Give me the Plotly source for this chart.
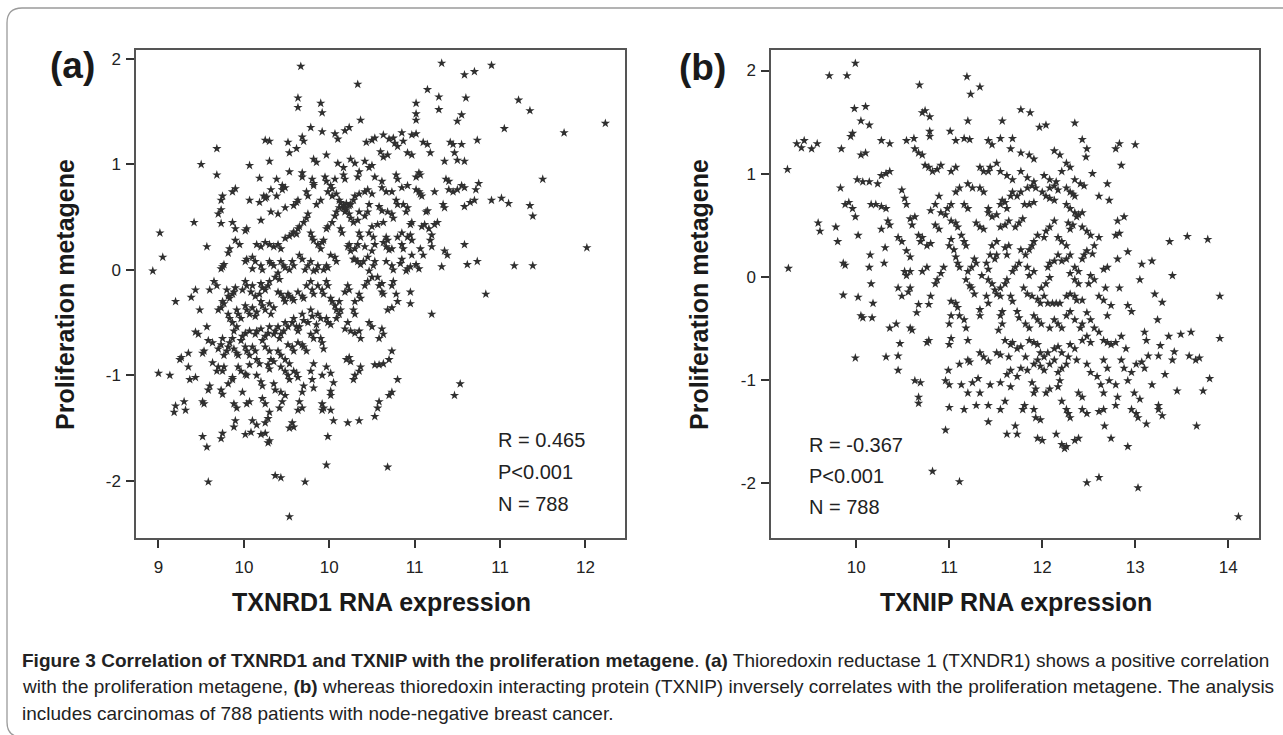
import plotly.graph_objects as go

# ---------------- data ----------------
# Panel (a): TXNRD1 RNA expression vs proliferation metagene
points_a = [
(10.0,1.93),(10.99,1.96),(11.34,1.94),(11.15,1.85),(11.22,1.88),(10.40,1.76),(10.89,1.71),(10.97,1.64),(10.97,1.52),(11.16,1.63),
(11.53,1.61),(11.61,1.51),(9.98,1.63),(9.98,1.54),(10.14,1.58),(10.15,1.49),(10.81,1.58),(10.81,1.48),(10.81,1.42),(11.13,1.47),
(11.10,1.41),(12.14,1.39),(11.85,1.30),(11.43,1.34),(10.42,1.42),(10.34,1.35),(10.31,1.32),(10.07,1.35),(10.15,1.31),(10.01,1.26),
(10.02,1.22),(10.24,1.29),(10.26,1.24),(9.75,1.23),(9.78,1.22),(9.91,1.21),(9.41,1.15),(9.30,1.0),(9.64,0.99),(9.78,1.03),
(9.92,1.11),(9.97,1.15),(10.09,1.05),(10.11,1.02),(10.18,1.09),(10.46,1.21),(10.50,1.23),(10.52,1.25),(10.58,1.28),(10.62,1.24),
(10.65,1.25),(10.71,1.30),(10.72,1.22),(10.78,1.28),(10.81,1.29),(10.66,1.20),(10.68,1.17),(10.75,1.11),(10.78,1.09),(10.56,1.12),
(10.58,1.07),(10.61,1.09),(10.86,1.21),(10.89,1.19),(10.91,1.11),(11.05,1.21),(11.07,1.19),(11.13,1.19),(11.24,1.23),(11.08,1.11),
(11.10,1.04),(11.15,1.03),(11.01,1.03),(10.45,1.03),(10.48,0.97),(10.50,0.99),(10.35,1.05),(10.38,1.01),(10.26,1.01),(10.30,0.97),
(10.41,0.93),(10.40,0.88),(10.30,0.90),(10.31,0.86),(10.24,0.86),(10.21,0.80),(10.22,0.77),(10.17,0.88),(10.18,0.84),(10.08,0.86),
(10.09,0.82),(10.09,0.80),(10.01,0.92),(10.01,0.88),(9.92,0.93),(9.83,0.86),(9.87,0.80),(9.89,0.78),(9.71,0.87),(9.79,0.76),
(9.83,0.70),(9.87,0.76),(9.74,0.70),(9.75,0.68),(9.76,0.69),(9.71,0.64),(9.64,0.66),(9.54,0.77),(9.52,0.74),(9.45,0.70),
(9.44,0.66),(9.41,0.90),(9.44,0.57),(9.42,0.53),(9.25,0.45),(9.44,0.44),(9.52,0.45),(9.54,0.39),(9.62,0.39),(9.61,0.37),
(9.72,0.47),(9.79,0.55),(9.84,0.53),(9.89,0.59),(9.95,0.61),(9.97,0.64),(9.98,0.66),(10.04,0.74),(10.05,0.70),(10.11,0.62),
(10.14,0.66),(10.19,0.74),(10.22,0.70),(10.25,0.72),(10.27,0.66),(10.28,0.64),(10.30,0.59),(10.31,0.55),(10.32,0.57),(10.34,0.61),
(10.35,0.62),(10.37,0.66),(10.38,0.70),(10.41,0.72),(10.45,0.74),(10.47,0.76),(10.50,0.72),(10.57,0.78),(10.60,0.74),(10.64,0.74),
(10.71,0.78),(10.75,0.80),(10.83,0.74),(10.84,0.72),(10.85,0.70),(10.81,0.76),(10.84,0.90),(10.83,0.92),(10.81,0.88),(10.67,0.90),
(10.68,0.86),(10.57,0.84),(10.52,0.88),(11.04,0.76),(11.07,0.74),(11.10,0.76),(11.13,0.80),(11.15,0.78),(11.23,0.76),(11.25,0.82),
(11.22,0.66),(11.19,0.64),(11.15,0.60),(11.34,0.66),(11.41,0.68),(11.46,0.63),(11.70,0.86),(11.61,0.61),(11.63,0.51),(12.01,0.21),
(11.50,0.04),(11.63,0.04),(11.24,0.08),(11.17,0.05),(11.15,0.24),(11.30,-0.23),(11.08,-1.19),(11.12,-1.08),(10.92,-0.42),(11.01,0.18),
(11.03,0.14),(10.99,0.03),(10.92,0.22),(10.91,0.28),(10.92,0.33),(10.90,0.39),(10.96,0.45),(10.94,0.43),(10.87,0.43),(10.85,0.41),
(10.78,0.45),(10.77,0.43),(10.88,0.55),(10.89,0.56),(10.71,0.35),(10.75,0.31),(10.77,0.33),(10.68,0.31),(10.84,0.20),(10.78,0.14),
(10.75,0.01),(10.74,-0.01),(10.77,0.03),(10.81,0.05),(10.83,0.01),(10.64,0.20),(10.62,0.19),(10.60,0.22),(10.61,0.55),(10.64,0.53),
(10.65,0.49),(10.58,0.45),(10.54,0.43),(10.50,0.41),(10.71,0.10),(10.70,0.06),(10.65,-0.11),(10.64,-0.15),(10.77,-0.21),(10.77,-0.32),
(10.68,-0.30),(10.67,-0.23),(10.61,-0.38),(10.64,-0.36),(10.54,-0.07),(10.55,-0.15),(10.57,-0.21),(10.58,-0.23),(10.57,-0.13),(10.47,0.12),
(10.50,0.18),(10.45,0.22),(10.40,0.24),(10.38,0.20),(10.35,0.18),(10.34,0.24),(10.33,0.22),(10.41,0.35),(10.42,0.31),(10.38,0.10),
(10.40,0.08),(10.42,0.05),(10.44,0.08),(10.37,0.10),(10.48,-0.01),(10.50,-0.07),(10.47,-0.11),(10.45,-0.15),(10.41,-0.23),(10.42,-0.27),
(10.38,-0.30),(10.33,-0.15),(10.34,-0.19),(10.31,-0.21),(10.37,-0.38),(10.38,-0.42),(10.33,-0.50),(10.31,-0.56),(10.27,-0.42),(10.28,-0.38),
(10.25,-0.46),(10.41,-0.58),(10.42,-0.65),(10.38,-0.60),(10.35,-0.58),(10.48,-0.50),(10.50,-0.54),(10.57,-0.56),(10.58,-0.61),(10.55,-0.65),
(10.64,-0.77),(10.62,-0.85),(10.58,-0.89),(10.55,-0.90),(10.52,-0.90),(10.42,-0.92),(10.41,-0.96),(10.38,-1.0),(10.37,-1.04),(10.34,-0.83),
(10.35,-0.87),(10.32,-0.85),(10.68,-1.04),(10.64,-1.16),(10.62,-1.19),(10.55,-1.25),(10.52,-1.39),(10.54,-1.31),(10.41,-1.43),(10.33,-1.45),
(10.61,-1.87),(10.21,-1.33),(10.23,-1.43),(10.19,-1.58),(10.18,-1.85),(10.23,-1.07),(10.21,-1.15),(10.21,-1.19),(10.15,-1.27),(10.16,-1.31),
(10.15,-1.33),(10.18,-0.92),(10.21,-0.98),(10.15,-1.0),(10.09,-0.89),(10.07,-0.96),(10.08,-1.04),(10.09,-1.12),(10.02,-1.10),(10.01,-1.16),
(9.99,-1.25),(10.01,-1.31),(9.98,-1.33),(9.94,-1.45),(9.95,-1.49),(9.92,-1.50),(10.03,-2.01),(9.92,-2.34),(9.82,-1.95),(9.86,-1.97),
(9.87,-1.25),(9.85,-1.31),(9.78,-1.35),(9.77,-1.41),(9.75,-1.45),(9.75,-1.55),(9.77,-1.64),(9.78,-1.62),(9.72,-1.56),(9.64,-1.25),
(9.62,-1.27),(9.65,-1.54),(9.54,-1.43),(9.53,-1.49),(9.45,-1.55),(9.44,-1.60),(9.35,-2.01),(9.34,-1.68),(9.31,-1.58),(9.31,-1.25),
(9.32,-1.27),(9.19,-1.33),(9.12,-1.29),(9.11,-1.35),(9.18,-1.25),(9.22,-1.04),(9.26,-1.02),(9.36,-1.10),(9.35,-1.14),(9.41,-0.96),
(9.42,-0.92),(9.52,-1.02),(9.52,-1.04),(9.49,-1.08),(9.61,-0.99),(9.62,-1.0),(9.0,-0.98),(9.08,-1.0),(9.15,-0.85),(9.16,-0.83),
(9.21,-0.79),(9.12,-0.30),(8.96,-0.01),(9.03,0.12),(9.01,0.35),(9.23,-0.26),(9.26,-0.19),(9.29,-0.38),(9.28,-0.61),(9.26,-0.59),
(9.31,-0.79),(9.32,-0.77),(9.34,-0.54),(9.35,-0.67),(9.38,-0.69),(9.36,-0.19),(9.39,-0.11),(9.41,-0.15),(9.34,0.22),(9.44,0.01),
(9.45,0.03),(9.46,0.05),(9.49,0.16),(9.50,0.20),(9.54,0.28),(9.57,0.24),(9.61,0.08),(9.62,0.10),(9.66,0.12),(9.68,0.08),
(9.66,0.01),(9.72,0.04),(9.73,0.00),(9.78,0.08),(9.79,0.06),(9.81,0.04),(9.69,0.24),(9.72,0.22),(9.75,0.26),(9.78,0.24),
(9.81,0.22),(9.84,0.24),(9.86,0.20),(9.89,0.30),(9.92,0.32),(9.94,0.34),(9.95,0.36),(9.98,0.39),(9.99,0.41),(9.97,0.34),
(10.02,0.45),(10.04,0.49),(10.05,0.53),(10.07,0.35),(10.08,0.31),(10.09,0.28),(10.12,0.24),(10.14,0.20),(10.15,0.26),(10.16,0.28),
(10.18,0.39),(10.19,0.41),(10.22,0.45),(10.24,0.51),(10.25,0.55),(10.27,0.59),(10.30,0.61),(10.31,0.59),(10.32,0.63),(10.34,0.53),
(10.35,0.49),(10.37,0.45),(10.28,0.39),(10.29,0.35),(10.21,0.14),(10.24,0.12),(10.25,0.08),(10.18,0.04),(10.16,0.0),(10.19,0.02),
(10.12,0.04),(10.11,0.0),(10.09,-0.01),(10.07,0.08),(10.05,0.04),(10.03,0.0),(9.99,0.14),(10.01,0.10),(9.94,0.08),(9.95,0.04),
(9.92,0.0),(9.86,0.08),(9.88,0.04),(9.89,0.02),(9.84,-0.03),(9.82,-0.07),(9.85,-0.09),(9.78,-0.11),(9.77,-0.15),(9.75,-0.19),
(9.72,-0.13),(9.73,-0.17),(9.71,-0.23),(9.66,-0.15),(9.65,-0.21),(9.68,-0.25),(9.61,-0.11),(9.62,-0.15),(9.59,-0.19),(9.54,-0.17),
(9.53,-0.21),(9.52,-0.23),(9.50,-0.27),(9.48,-0.19),(9.49,-0.25),(9.45,-0.30),(9.44,-0.36),(9.42,-0.38),(9.46,-0.32),(9.49,-0.42),
(9.50,-0.46),(9.52,-0.50),(9.55,-0.38),(9.56,-0.42),(9.58,-0.46),(9.61,-0.34),(9.62,-0.38),(9.64,-0.42),(9.66,-0.36),(9.69,-0.40),
(9.68,-0.44),(9.72,-0.30),(9.73,-0.34),(9.75,-0.38),(9.78,-0.32),(9.81,-0.36),(9.79,-0.42),(9.84,-0.21),(9.86,-0.23),(9.88,-0.27),
(9.89,-0.30),(9.91,-0.23),(9.92,-0.25),(9.94,-0.27),(9.95,-0.29),(9.98,-0.21),(10.01,-0.25),(10.02,-0.27),(10.04,-0.15),(10.07,-0.11),
(10.08,-0.19),(10.09,-0.23),(10.12,-0.15),(10.15,-0.19),(10.16,-0.23),(10.18,-0.11),(10.19,-0.15),(10.21,-0.27),(10.22,-0.30),(10.24,-0.34),
(10.25,-0.38),(10.27,-0.30),(10.18,-0.46),(10.19,-0.50),(10.21,-0.52),(10.12,-0.42),(10.14,-0.46),(10.11,-0.52),(10.07,-0.38),(10.08,-0.44),
(10.05,-0.50),(10.01,-0.42),(10.02,-0.48),(9.99,-0.54),(9.95,-0.46),(9.94,-0.50),(9.97,-0.54),(9.98,-0.58),(9.89,-0.50),(9.91,-0.54),
(9.88,-0.58),(9.86,-0.61),(9.84,-0.54),(9.82,-0.58),(9.81,-0.61),(9.85,-0.65),(9.78,-0.54),(9.77,-0.60),(9.75,-0.63),(9.73,-0.67),
(9.72,-0.56),(9.69,-0.58),(9.68,-0.61),(9.64,-0.58),(9.61,-0.60),(9.59,-0.63),(9.58,-0.67),(9.55,-0.54),(9.53,-0.58),(9.52,-0.65),
(9.50,-0.69),(9.49,-0.73),(9.48,-0.77),(9.46,-0.81),(9.45,-0.65),(9.44,-0.71),(9.42,-0.75),(9.53,-0.75),(9.55,-0.79),(9.56,-0.81),
(9.61,-0.73),(9.62,-0.77),(9.64,-0.81),(9.66,-0.73),(9.68,-0.77),(9.69,-0.85),(9.71,-0.89),(9.75,-0.73),(9.78,-0.77),(9.79,-0.85),
(9.81,-0.87),(9.84,-0.77),(9.86,-0.81),(9.89,-0.85),(9.92,-0.89),(9.91,-0.71),(9.94,-0.73),(9.95,-0.77),(9.98,-0.69),(10.01,-0.71),
(10.02,-0.73),(10.04,-0.77),(10.07,-0.61),(10.09,-0.65),(10.11,-0.58),(10.14,-0.65),(10.15,-0.69),(10.16,-0.75),(9.86,-0.92),(9.89,-0.96),
(9.91,-1.0),(9.92,-1.04),(9.95,-0.96),(9.97,-0.98),(9.98,-1.02),(9.77,-0.90),(9.78,-0.94),(9.69,-1.0),(9.72,-1.06),(9.73,-1.10),
(9.81,-1.08),(9.82,-1.14),(9.86,-1.16),(9.89,-1.19),(9.73,-1.22),(9.75,-1.27),(9.46,-0.92),(9.45,-0.96),(9.56,-0.92),(9.58,-0.96),
(9.64,-0.90),(9.38,-0.88),(9.21,-0.92),(9.44,-1.14),(9.45,-1.18),(9.53,-1.27),(9.55,-1.31),(9.59,-1.16),(9.66,-1.43),(9.69,-1.47),
(9.61,-1.56),(10.60,0.31),(10.61,0.28),(10.58,0.26),(10.71,0.24),(10.72,0.20),(10.78,0.28),(10.64,0.04),(10.65,0.0),(10.60,0.08),
(10.52,0.08),(10.51,0.04),(10.86,0.14),(10.72,0.62),(10.75,0.59),(10.74,0.55),(10.67,0.66),(10.68,0.62),(10.55,0.60),(10.57,0.56),
(10.48,0.62),(10.47,0.55),(10.45,0.51),(10.41,0.55),(10.40,0.47),(10.48,0.35),(10.51,0.31),(10.52,0.24),(11.0,0.62),(11.01,0.59),
(10.94,0.74),(11.02,0.86),(11.04,0.84),
]

# Panel (b): TXNIP RNA expression vs proliferation metagene
points_b = [
(9.99,2.07),(9.71,1.95),(9.90,1.95),(10.68,1.86),(11.19,1.94),(11.23,1.77),(11.33,1.84),(9.98,1.63),(10.10,1.65),(10.05,1.51),
(10.14,1.47),(10.71,1.59),(10.74,1.61),(10.79,1.55),(10.79,1.41),(10.79,1.36),(11.77,1.62),(11.87,1.59),(11.57,1.51),(12.35,1.49),
(11.97,1.45),(12.04,1.47),(11.20,1.51),(11.01,1.41),(9.96,1.39),(9.94,1.36),(10.27,1.32),(10.36,1.29),(9.36,1.29),(9.44,1.32),
(9.41,1.25),(9.52,1.24),(9.58,1.29),(9.26,1.04),(9.84,1.24),(10.54,1.32),(10.62,1.34),(10.63,1.24),(10.67,1.20),(10.71,1.18),
(11.07,1.32),(11.16,1.34),(11.22,1.33),(11.42,1.32),(11.46,1.28),(11.55,1.34),(11.68,1.34),(11.66,1.24),(11.77,1.20),(11.86,1.18),
(11.91,1.14),(12.13,1.22),(12.19,1.18),(12.48,1.24),(12.47,1.16),(12.79,1.24),(12.83,1.29),(13.0,1.28),(12.85,1.08),(12.43,1.33),
(12.26,1.10),(12.30,1.06),(12.54,1.0),(12.70,0.90),(12.61,0.78),(12.72,0.74),(12.88,0.58),(12.81,0.54),(12.83,0.42),(12.79,0.40),
(12.92,0.24),(13.18,0.15),(13.07,0.12),(13.37,0.34),(13.56,0.39),(13.78,0.36),(13.40,0.01),(13.05,-0.03),(13.21,-0.17),(13.29,-0.25),
(13.91,-0.19),(13.91,-0.60),(13.60,-0.54),(13.49,-0.56),(13.36,-0.58),(13.58,-0.77),(13.65,-0.81),(13.69,-0.79),(13.27,-0.67),(13.25,-0.77),
(13.10,-0.54),(13.12,-0.62),(13.24,-0.42),(13.01,-0.85),(13.07,-0.83),(12.96,-0.93),(12.92,-1.01),(13.32,-0.95),(13.45,-1.11),(13.80,-0.99),
(13.73,-1.11),(13.66,-1.45),(13.25,-1.29),(13.29,-1.35),(13.25,-1.25),(13.03,-1.37),(13.12,-1.43),(12.99,-1.13),(13.05,-1.19),(12.92,-1.65),
(13.03,-2.05),(14.11,-2.33),(12.61,-1.95),(12.48,-2.0),(12.74,-1.57),(12.67,-1.45),(12.79,-1.25),(12.81,-1.17),(12.66,-1.29),(12.61,-1.31),
(12.48,-1.33),(12.43,-1.29),(12.28,-1.33),(12.30,-1.37),(12.39,-1.57),(12.35,-1.59),(12.26,-1.65),(12.24,-1.67),(12.21,-1.63),(12.15,-1.53),
(11.95,-1.57),(12.0,-1.59),(11.98,-1.39),(11.73,-1.53),(11.62,-1.53),(11.71,-1.45),(11.42,-1.41),(11.42,-1.25),(11.79,-1.29),(11.81,-1.25),
(10.82,-1.89),(11.11,-1.99),(10.96,-1.49),(11.0,-1.27),(10.67,-1.23),(10.67,-1.17),(10.63,-1.01),(10.69,-1.03),(10.45,-0.91),(10.45,-0.77),
(10.47,-0.65),(9.99,-0.79),(10.96,-1.01),(10.99,-0.91),(11.0,-1.05),(11.13,-1.05),(11.20,-1.13),(11.22,-0.83),(11.20,-0.81),(11.11,-0.85),
(11.25,-1.03),(11.31,-0.99),(11.44,-1.05),(11.55,-1.03),(11.66,-1.07),(11.73,-0.97),(11.77,-0.89),(11.84,-0.91),(11.89,-1.03),(11.93,-1.09),
(11.91,-1.13),(12.04,-1.13),(12.08,-1.09),(12.17,-0.93),(12.19,-1.01),(12.17,-1.07),(12.13,-0.81),(12.08,-0.85),(12.02,-0.91),(11.98,-0.87),
(12.37,-0.81),(12.48,-0.85),(12.52,-0.93),(12.59,-0.97),(12.63,-1.05),(12.72,-1.01),(12.66,-1.13),(12.79,-1.05),(10.30,0.13),(10.31,0.28),
(10.27,0.46),(10.15,0.21),(10.14,0.09),(10.16,-0.07),(10.05,-0.38),(10.07,-0.40),(10.02,-0.20),(10.17,-0.40),(10.18,-0.26),(9.86,-0.18),
(9.88,0.11),(9.86,0.13),(9.80,0.34),(9.78,0.48),(9.61,0.44),(9.59,0.52),(9.27,0.08),(9.83,0.86),(9.88,0.70),(9.92,0.72),
(9.96,0.66),(9.99,0.58),(10.02,0.40),(10.05,1.18),(10.10,1.20),(10.01,0.94),(10.07,0.92),(10.14,0.92),(10.23,0.90),(10.27,0.98),
(10.32,1.0),(10.36,1.02),(10.16,0.70),(10.21,0.70),(10.27,0.68),(10.32,0.66),(10.34,0.54),(10.36,0.50),(10.49,0.84),(10.52,0.76),
(10.54,0.70),(10.58,0.56),(10.63,0.58),(10.60,0.50),(10.67,0.40),(10.71,0.38),(10.69,0.34),(10.76,0.30),(10.80,0.32),(10.85,0.50),
(10.89,0.46),(10.91,0.62),(10.96,0.60),(10.98,0.66),(11.02,0.54),(11.07,0.52),(11.09,0.48),(11.13,0.40),(11.16,0.34),(11.18,0.30),
(11.02,0.36),(11.0,0.30),(11.05,0.26),(11.07,0.19),(11.09,0.13),(11.11,0.09),(10.94,0.09),(10.91,0.03),(10.87,-0.03),(10.85,-0.07),
(10.76,0.09),(10.71,0.05),(10.58,0.05),(10.54,0.01),(10.52,0.05),(10.56,-0.15),(10.58,-0.11),(10.80,-0.19),(10.78,-0.27),(10.67,-0.27),
(10.65,-0.35),(10.58,-0.50),(10.60,-0.52),(10.78,-0.62),(10.76,-0.64),(11.02,-0.24),(11.07,-0.26),(11.09,-0.30),(11.11,-0.38),(11.16,-0.42),
(11.02,-0.38),(11.0,-0.46),(11.18,-0.50),(11.20,-0.62),(11.24,-0.11),(11.27,-0.17),(11.33,-0.32),(11.33,-0.38),(11.40,-0.19),(11.42,-0.26),
(11.42,-0.03),(11.46,-0.07),(11.49,-0.13),(11.51,-0.17),(11.55,-0.19),(11.57,-0.34),(11.55,-0.38),(11.57,-0.46),(11.53,-0.52),(11.60,-0.62),
(11.66,-0.66),(11.68,-0.64),(11.73,-0.70),(11.77,-0.68),(11.86,-0.62),(11.91,-0.64),(11.95,-0.66),(11.98,-0.74),(12.02,-0.78),(12.06,-0.74),
(12.13,-0.70),(12.17,-0.68),(12.21,-0.74),(11.82,-0.46),(11.86,-0.50),(11.73,-0.34),(11.75,-0.40),(11.66,-0.19),(11.68,-0.24),(11.80,-0.11),
(11.84,-0.17),(11.89,-0.19),(11.95,-0.22),(11.98,-0.26),(12.02,-0.19),(12.06,-0.26),(12.11,-0.26),(12.15,-0.26),(12.19,-0.26),(12.26,-0.19),
(12.30,-0.17),(12.35,-0.19),(12.37,-0.23),(12.43,-0.23),(12.48,-0.35),(12.52,-0.42),(12.56,-0.50),(12.61,-0.54),(12.66,-0.62),(12.70,-0.64),
(12.74,-0.66),(12.79,-0.64),(12.85,-0.58),(12.90,-0.70),(12.61,-0.19),(12.66,-0.23),(12.68,-0.11),(12.74,-0.28),(12.70,-0.38),(12.56,-0.03),
(12.52,0.01),(12.50,-0.07),(12.39,-0.07),(12.35,-0.03),(12.30,0.03),(12.66,0.07),(12.70,0.09),(12.81,0.17),(12.83,-0.11),(12.92,-0.28),
(12.96,-0.34),(12.43,0.17),(12.45,0.21),(12.48,0.25),(12.30,0.21),(12.26,0.17),(12.21,0.15),(12.17,0.21),(12.13,0.15),(12.08,0.13),
(12.06,0.09),(12.08,-0.01),(12.04,-0.07),(11.99,-0.11),(11.91,0.05),(11.86,0.01),(11.84,0.09),(11.75,0.13),(11.71,0.09),(11.68,0.05),
(11.62,-0.03),(11.60,-0.07),(11.55,-0.11),(11.60,0.28),(11.64,0.30),(11.62,0.21),(11.51,0.34),(11.46,0.30),(11.44,0.21),(11.40,0.13),
(11.42,0.07),(11.35,0.01),(11.27,0.17),(11.29,0.13),(11.24,0.09),(11.20,0.05),(11.18,-0.03),(11.22,-0.09),(11.29,0.52),(11.33,0.48),
(11.37,0.46),(11.42,0.66),(11.42,0.62),(11.46,0.58),(11.51,0.60),(11.55,0.70),(11.57,0.74),(11.60,0.72),(11.62,0.66),(11.66,0.78),
(11.68,0.82),(11.73,0.78),(11.77,0.82),(11.81,0.70),(11.86,0.70),(11.91,0.72),(11.84,0.86),(11.89,0.88),(11.93,0.86),(12.0,0.82),
(12.04,0.78),(12.08,0.76),(12.13,0.74),(12.08,0.86),(12.13,0.88),(12.17,0.84),(12.30,0.82),(12.35,0.78),(12.33,0.80),(12.26,0.70),
(12.30,0.66),(12.35,0.62),(12.37,0.58),(12.28,0.52),(12.33,0.50),(12.30,0.46),(12.39,0.60),(12.43,0.62),(12.43,0.48),(12.48,0.44),
(12.52,0.40),(12.61,0.38),(12.56,0.30),(12.54,0.22),(12.13,0.54),(12.08,0.48),(12.04,0.44),(12.02,0.38),(11.95,0.40),(11.91,0.34),
(11.89,0.30),(11.86,0.26),(11.79,0.56),(11.75,0.52),(11.71,0.48),(11.64,0.54),(11.60,0.50),(11.55,0.48),(11.51,0.21),(11.49,0.17),
(11.77,0.26),(11.82,0.21),(12.17,0.38),(12.21,0.34),(12.26,0.30),(12.35,0.09),(12.39,0.05),(11.33,0.86),(11.37,0.82),(11.42,1.02),
(11.44,1.06),(11.20,0.90),(11.25,0.86),(11.11,0.86),(11.07,0.82),(11.16,0.70),(11.20,0.66),(11.02,0.70),(10.89,0.78),(10.85,0.70),
(10.80,0.64),(10.74,1.08),(10.78,1.06),(10.82,1.02),(10.87,1.04),(10.91,1.08),(11.02,1.02),(11.07,1.06),(11.33,1.06),(11.37,1.02),
(11.51,1.10),(11.55,1.02),(11.62,0.98),(11.68,0.94),(11.77,1.02),(11.84,0.96),(11.91,0.92),(12.02,0.98),(12.08,0.94),(12.15,0.92),
(12.21,1.02),(12.35,0.94),(12.41,0.90),(12.45,0.88),(12.26,0.86),(10.45,0.38),(10.49,0.34),(10.54,0.25),(10.58,0.19),(10.45,-0.11),
(10.49,-0.19),(10.36,-0.50),(10.43,-0.46),(10.32,-0.78),(11.0,-0.66),(11.02,-0.60),(11.33,-0.74),(11.37,-0.78),(11.42,-0.82),(11.51,-0.74),
(11.55,-0.76),(11.64,-0.78),(11.66,-0.91),(11.62,-0.95),(12.30,-0.66),(12.35,-0.70),(12.28,-0.78),(12.43,-0.62),(12.48,-0.58),(12.52,-0.64),
(12.08,-0.50),(12.13,-0.42),(12.17,-0.46),(12.21,-0.50),(11.91,-0.38),(11.95,-0.42),(11.99,-0.46),(12.26,-0.38),(12.30,-0.34),(12.35,-0.42),
(12.43,-0.46),(12.41,-0.50),(11.91,-0.85),(11.95,-0.81),(11.82,-0.78),(12.21,-0.89),(12.26,-0.85),(12.39,-1.13),(12.43,-1.17),(12.21,-1.21),
(12.26,-1.29),(11.91,-1.29),(11.93,-1.37),(11.55,-1.29),(11.60,-1.21),(11.33,-1.13),(11.29,-1.25),(11.16,-1.29),(12.66,-0.81),(12.70,-0.89),
(12.85,-0.81),(12.88,-0.89),(13.10,-0.89),(13.14,-0.77),(13.40,-0.81),(13.42,-0.73),(13.18,-1.05),(12.96,-1.29),(13.01,-1.33),
]

stats_a = ["R = 0.465", "P<0.001", "N = 788"]
stats_b = ["R = -0.367", "P<0.001", "N = 788"]

xa_tickvals = [9, 9.6, 10.2, 10.8, 11.4, 12]
xa_ticktext = ["9", "10", "10", "11", "11", "12"]
xb_tickvals = [10, 11, 12, 13, 14]
xb_ticktext = ["10", "11", "12", "13", "14"]
y_tickvals = [-2, -1, 0, 1, 2]
y_ticktext = ["-2", "-1", "0", "1", "2"]

caption_lines = [
    "<b>Figure 3 Correlation of TXNRD1 and TXNIP with the proliferation metagene</b>. "
    "<b>(a)</b> Thioredoxin reductase 1 (TXNDR1) shows a positive correlation",
    "with the proliferation metagene, <b>(b)</b> whereas thioredoxin interacting protein (TXNIP) "
    "inversely correlates with the proliferation metagene. The analysis",
    "includes carcinomas of 788 patients with node-negative breast cancer.",
]

# ---------------- figure ----------------
W, H = 1283, 735
def px(x): return x / W
def py(y): return 1 - y / H

xa = [p[0] for p in points_a]; ya = [p[1] for p in points_a]
xb = [p[0] for p in points_b]; yb = [p[1] for p in points_b]

marker = dict(symbol="star", size=7, color="#2f2f2f", line=dict(width=0))
fig = go.Figure()
fig.add_trace(go.Scatter(x=xa, y=ya, mode="markers", marker=marker, xaxis="x", yaxis="y", showlegend=False))
fig.add_trace(go.Scatter(x=xb, y=yb, mode="markers", marker=marker, xaxis="x2", yaxis="y2", showlegend=False))

tickfont = dict(family="Liberation Sans, Arial, sans-serif", size=17, color="#222")
axcommon = dict(showline=True, mirror=True, linecolor="#555", linewidth=1.5, ticks="outside",
                ticklen=8, tickwidth=2, tickcolor="#333", tickfont=tickfont,
                showgrid=False, zeroline=False)

fig.update_layout(
    width=W, height=H, margin=dict(l=0, r=0, t=0, b=0),
    paper_bgcolor="white", plot_bgcolor="white",
    xaxis=dict(domain=[px(136), px(625)], range=[8.842, 12.278], tickvals=xa_tickvals,
               ticktext=xa_ticktext, anchor="y", ticklabelstandoff=5, **axcommon),
    yaxis=dict(domain=[py(538), py(50)], range=[-2.542, 2.085], tickvals=y_tickvals,
               ticktext=y_ticktext, anchor="x", ticklabelstandoff=2, **axcommon),
    xaxis2=dict(domain=[px(771), px(1259)], range=[9.083, 14.331], tickvals=xb_tickvals,
                ticktext=xb_ticktext, anchor="y2", ticklabelstandoff=5, **axcommon),
    yaxis2=dict(domain=[py(538), py(50)], range=[-2.537, 2.199], tickvals=y_tickvals,
                ticktext=y_ticktext, anchor="x2", ticklabelstandoff=2, **axcommon),
)

ann = []
titlefont = dict(family="Liberation Sans, Arial, sans-serif", size=25, color="#1a1a1a")
labfont = dict(family="Liberation Sans, Arial, sans-serif", size=37, color="#1a1a1a")
statfont = dict(family="Liberation Sans, Arial, sans-serif", size=20, color="#222")
capfont = dict(family="Liberation Sans, Arial, sans-serif", size=19, color="#222")

ann.append(dict(x=px(72), y=py(66), text="<b>(a)</b>", font=labfont))
ann.append(dict(x=px(702), y=py(67), text="<b>(b)</b>", font=labfont))
ann.append(dict(x=px(65), y=py(295), text="<b>Proliferation metagene</b>", textangle=-90, font=titlefont))
ann.append(dict(x=px(699), y=py(295), text="<b>Proliferation metagene</b>", textangle=-90, font=titlefont))
ann.append(dict(x=px(382), y=py(602), text="<b>TXNRD1 RNA expression</b>", font=titlefont))
ann.append(dict(x=px(1016), y=py(602), text="<b>TXNIP RNA expression</b>", font=titlefont))
for i, s in enumerate(stats_a):
    ann.append(dict(x=px(496), y=py(440 + 32 * i), text=s, font=statfont, xanchor="left"))
for i, s in enumerate(stats_b):
    ann.append(dict(x=px(807), y=py(445 + 31 * i), text=s, font=statfont, xanchor="left"))
for i, s in enumerate(caption_lines):
    ann.append(dict(x=px(20), y=py(660 + 26.5 * i), text=s, font=capfont, xanchor="left"))
for a in ann:
    a.setdefault("xanchor", "center")
    a.setdefault("yanchor", "middle")
    a.update(xref="paper", yref="paper", showarrow=False)
fig.update_layout(annotations=ann)

# outer rounded frame
path = (f"M {px(7)},{py(722)} Q {px(7)},{py(737)} {px(22)},{py(737)} "
        f"M {px(7)},{py(722)} L {px(7)},{py(23)} Q {px(7)},{py(8)} {px(22)},{py(8)} L {px(1300)},{py(8)}")
fig.add_shape(type="path", path=path, xref="paper", yref="paper",
              line=dict(color="#9a9a9a", width=1.3))

fig.write_html("out.html", config={"displayModeBar": False},
               post_script="document.body.style.margin='0px';document.body.style.overflow='hidden';")
